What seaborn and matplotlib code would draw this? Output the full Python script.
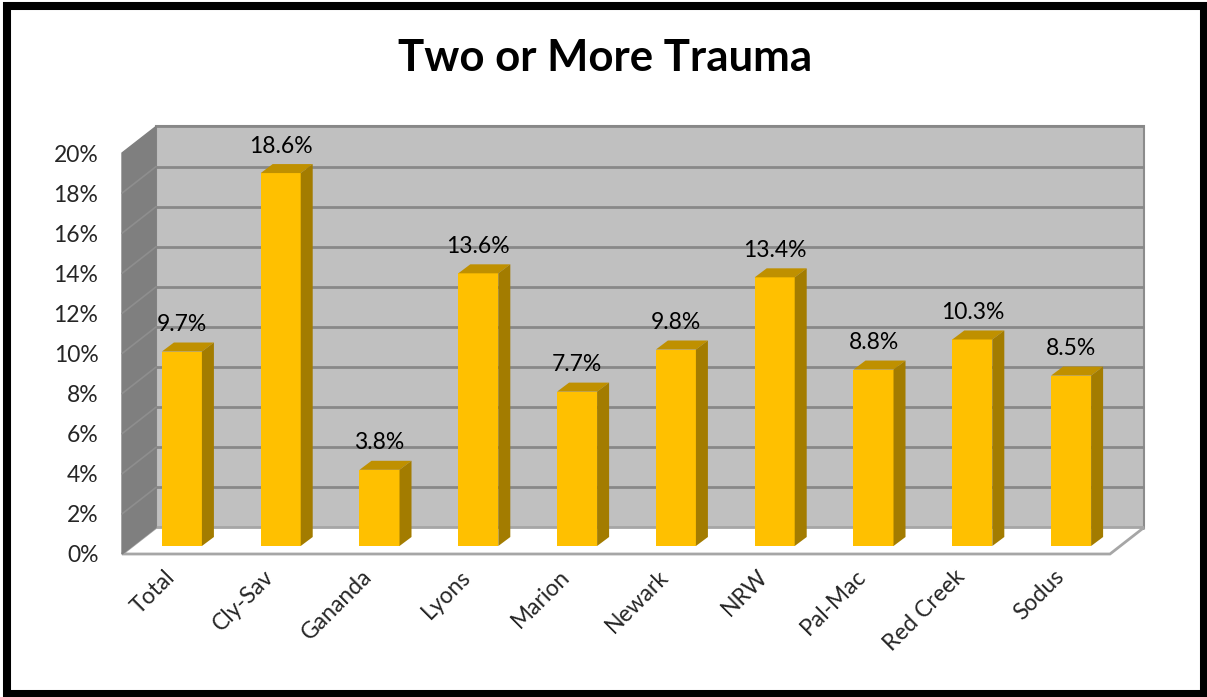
import matplotlib
matplotlib.use("Agg")
import matplotlib.pyplot as plt
from matplotlib.patches import Polygon, Rectangle
import seaborn as sns

sites = ["Total", "Cly-Sav", "Gananda", "Lyons", "Marion", "Newark", "NRW",
         "Pal-Mac", "Red Creek", "Sodus"]
values = [0.097, 0.186, 0.038, 0.136, 0.077, 0.098, 0.134, 0.088, 0.103, 0.085]
labels = ["9.7%", "18.6%", "3.8%", "13.6%", "7.7%", "9.8%", "13.4%", "8.8%",
          "10.3%", "8.5%"]
yticks = [0, 0.02, 0.04, 0.06, 0.08, 0.10, 0.12, 0.14, 0.16, 0.18, 0.20]
ytick_labels = ["0%", "2%", "4%", "6%", "8%", "10%", "12%", "14%", "16%",
                "18%", "20%"]

sns.set_style("white")
plt.rcParams["font.family"] = ["Lato", "DejaVu Sans"]

W, H = 1207, 697
fig = plt.figure(figsize=(W / 100, H / 100), dpi=100)
# front plane of the 3d box
x0, x1, yb, yt = 122, 1110, 554, 153
ax = fig.add_axes([x0 / W, (H - yb) / H, (x1 - x0) / W, (yb - yt) / H])
ax.set_xlim(-0.5, 9.5)
ax.set_ylim(0, 0.2)

px_x = (x1 - x0) / 10.0
px_y = (yb - yt) / 0.2


def pt(x, y, dx, dy):
    # data point pushed back by a pixel depth offset
    return (x + dx / px_x, y + dy / px_y)


BACK = (34, 26.5)
BAR_F = (10.5, 8)
BAR_B = (22.5, 17)

# back wall
wall = Polygon([pt(-0.5, 0, *BACK), pt(9.5, 0, *BACK), pt(9.5, 0.2, *BACK),
                pt(-0.5, 0.2, *BACK)], closed=True, facecolor="#c0c0c0",
               edgecolor="#8c8c8c", lw=1.5, zorder=0.5, clip_on=False)
ax.add_patch(wall)
for t in yticks:
    ax.plot(*zip(pt(-0.5, t, *BACK), pt(9.5, t, *BACK)), color="#888888",
            lw=2, zorder=0.6, clip_on=False, solid_capstyle="butt")

# floor
floor = Polygon([pt(-0.5, 0, 0, 0), pt(9.5, 0, 0, 0), pt(9.5, 0, *BACK),
                 pt(-0.5, 0, *BACK)], closed=True, facecolor="white",
                edgecolor="#a6a6a6", lw=2, zorder=0.7, clip_on=False)
ax.add_patch(floor)

# left side wall
side = Polygon([pt(-0.5, 0, 0, 0), pt(-0.5, 0, *BACK), pt(-0.5, 0.2, *BACK),
                pt(-0.5, 0.2, 0, 0)], closed=True, facecolor="#7f7f7f",
               edgecolor="#7f7f7f", lw=1, zorder=0.8, clip_on=False)
ax.add_patch(side)
for t in yticks[1:-1]:
    ax.plot(*zip(pt(-0.5, t, 0, 0), pt(-0.5, t, *BACK)), color="#8e8e8e",
            lw=1.2, zorder=0.9, clip_on=False)

# bars (front faces) with seaborn, then shifted into the box
before = len(ax.patches)
sns.barplot(x=sites, y=values, color="#ffc000", saturation=1, width=0.405,
            ax=ax, zorder=2)
ax.set_xlim(-0.5, 9.5)
ax.set_ylim(0, 0.2)
bars = list(ax.patches)[before:]
for b in bars:
    bx, bw, bh = b.get_x(), b.get_width(), b.get_height()
    b.set_xy(pt(bx, 0, *BAR_F))
    b.set_linewidth(0)
    b.set_clip_on(False)
    ddx, ddy = BAR_B[0] - BAR_F[0], BAR_B[1] - BAR_F[1]
    fx0, fy0 = pt(bx, 0, *BAR_F)
    fx1 = fx0 + bw
    fy1 = fy0 + bh
    top = Polygon([(fx0, fy1), (fx1, fy1), pt(fx1, fy1, ddx, ddy),
                   pt(fx0, fy1, ddx, ddy)], closed=True, facecolor="#bf9000",
                  edgecolor="none", zorder=2, clip_on=False)
    rside = Polygon([(fx1, fy0), pt(fx1, fy0, ddx, ddy), pt(fx1, fy1, ddx, ddy),
                     (fx1, fy1)], closed=True, facecolor="#a37c00",
                    edgecolor="none", zorder=2, clip_on=False)
    ax.add_patch(top)
    ax.add_patch(rside)

for i, (v, lab) in enumerate(zip(values, labels)):
    ax.annotate(lab, (i, v), xytext=(BAR_F[0] * 0.72, (BAR_F[1] + 27) * 0.72),
                textcoords="offset points", ha="center", va="center",
                fontsize=16.5, color="black", zorder=3)

ax.set_yticks(yticks)
ax.set_yticklabels(ytick_labels)
ax.tick_params(axis="y", length=0, pad=17, labelsize=16.5)
ax.tick_params(axis="x", length=0, pad=14, labelsize=16.5)
plt.setp(ax.get_xticklabels(), rotation=45, ha="right", va="center",
         rotation_mode="anchor")
for s in ax.spines.values():
    s.set_visible(False)
ax.patch.set_visible(False)

fig.text(605 / W, 1 - 58 / H, "Two or More Trauma", ha="center", va="center",
         fontsize=31.5, fontweight="bold", color="black")

fig.patches.append(Rectangle((7 / W, 1 - 693.5 / H), (1204 - 7) / W,
                             (693.5 - 6) / H, transform=fig.transFigure,
                             fill=False, edgecolor="black", lw=5.8))

fig.savefig("out.png", dpi=100)
